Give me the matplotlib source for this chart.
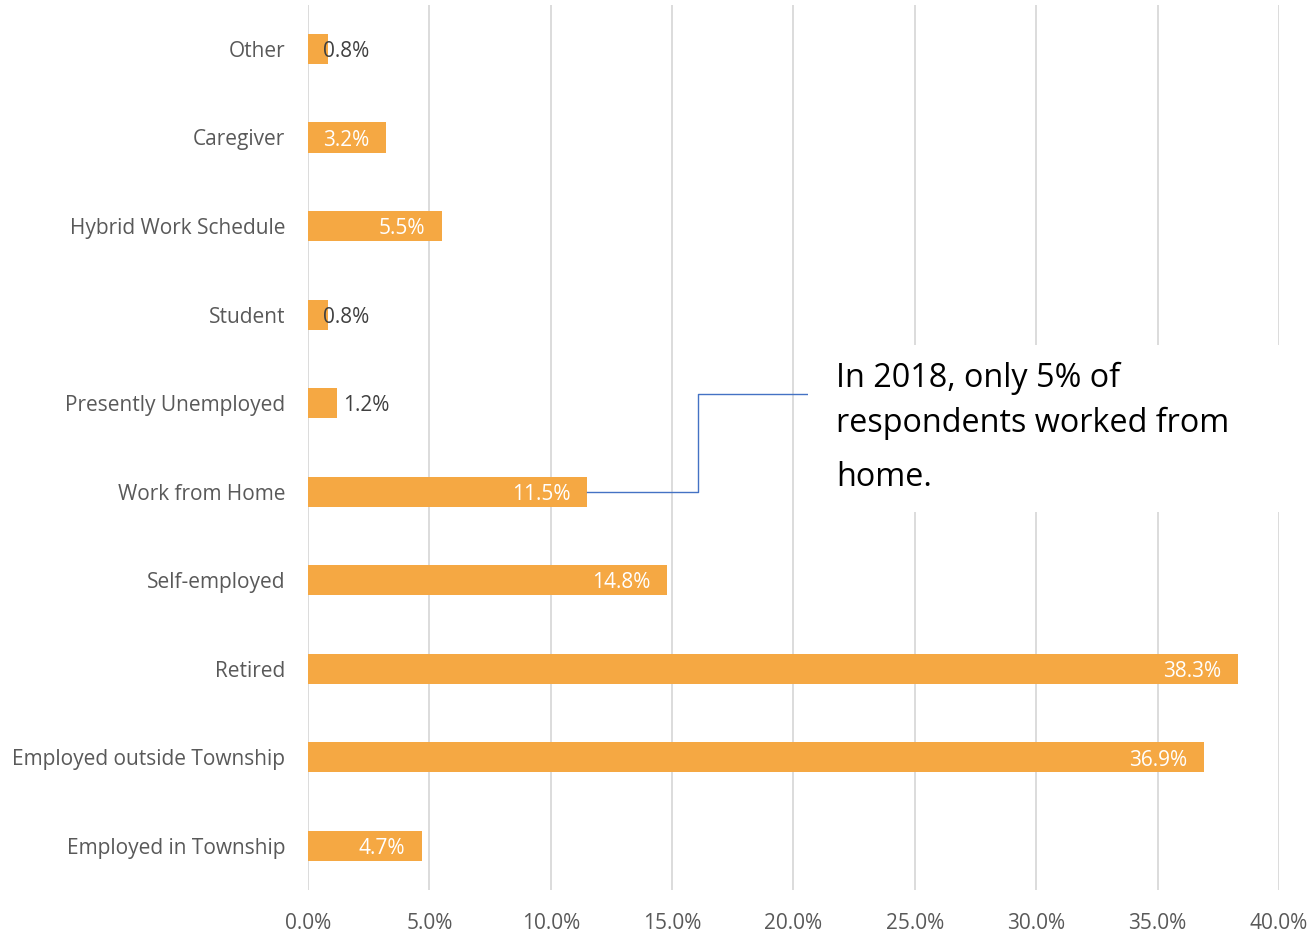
import numpy as np
import matplotlib.pyplot as plt
from matplotlib.patches import Rectangle

plt.rcParams['font.family'] = ['Open Sans', 'DejaVu Sans']

categories = ['Other', 'Caregiver', 'Hybrid Work Schedule', 'Student',
              'Presently Unemployed', 'Work from Home', 'Self-employed',
              'Retired', 'Employed outside Township', 'Employed in Township']
values = [0.8, 3.2, 5.5, 0.8, 1.2, 11.5, 14.8, 38.3, 36.9, 4.7]
xticks = [0, 5, 10, 15, 20, 25, 30, 35, 40]

bar_color = '#F5A843'
grey = '#595959'

fig = plt.figure(figsize=(13.11, 9.34), dpi=100)
ax = fig.add_axes([0.235, 0.047, 0.7405, 0.948])

y = np.arange(len(categories))
ax.barh(y, values, height=0.34, color=bar_color, zorder=2)
ax.set_ylim(len(categories) - 0.5, -0.5)
ax.set_xlim(0, 40)

ax.set_yticks(y)
ax.set_yticklabels(categories, fontsize=15, color=grey)
ax.set_xticks(xticks)
ax.set_xticklabels(['%.1f%%' % t for t in xticks], fontsize=15, color=grey)
ax.tick_params(length=0, pad=16.5, axis='y')
ax.tick_params(length=0, pad=16.5, axis='x')
for s in ax.spines.values():
    s.set_visible(False)
ax.grid(axis='x', color='#D9D9D9', linewidth=1.3, zorder=0)
ax.set_axisbelow(True)

# data labels
for yi, v in zip(y, values):
    txt = '%.1f%%' % v
    if v < 2:
        off = -3 if v < 1 else 4
        ax.annotate(txt, (v, yi), xytext=(off, -2), textcoords='offset points',
                    ha='left', va='center', fontsize=15, color='#404040', zorder=3)
    else:
        ax.annotate(txt, (v, yi), xytext=(-12, -2), textcoords='offset points',
                    ha='right', va='center', fontsize=15, color='white', zorder=3)

# callout box
wfh = categories.index('Work from Home')
box = Rectangle((808 / 1311, 1 - 512 / 934), 500 / 1311, 167 / 934,
                transform=fig.transFigure, facecolor='white', edgecolor='none', zorder=5)
fig.patches.append(box)

# connector line from bar end
x_end = values[wfh]
x_mid = 16.05
x_box = 20.6
y_box = wfh - 1.1
ax.plot([x_end, x_mid, x_mid, x_box], [wfh, wfh, y_box, y_box],
        color='#4472C4', linewidth=1, zorder=6, clip_on=False)

for line, ypx in [('In 2018, only 5% of', 378), ('respondents worked from', 423),
                  ('home.', 477)]:
    fig.text(836 / 1311, 1 - ypx / 934, line, fontsize=23.3,
             ha='left', va='center', color='black', zorder=7)

fig.savefig('out.png', dpi=100)
